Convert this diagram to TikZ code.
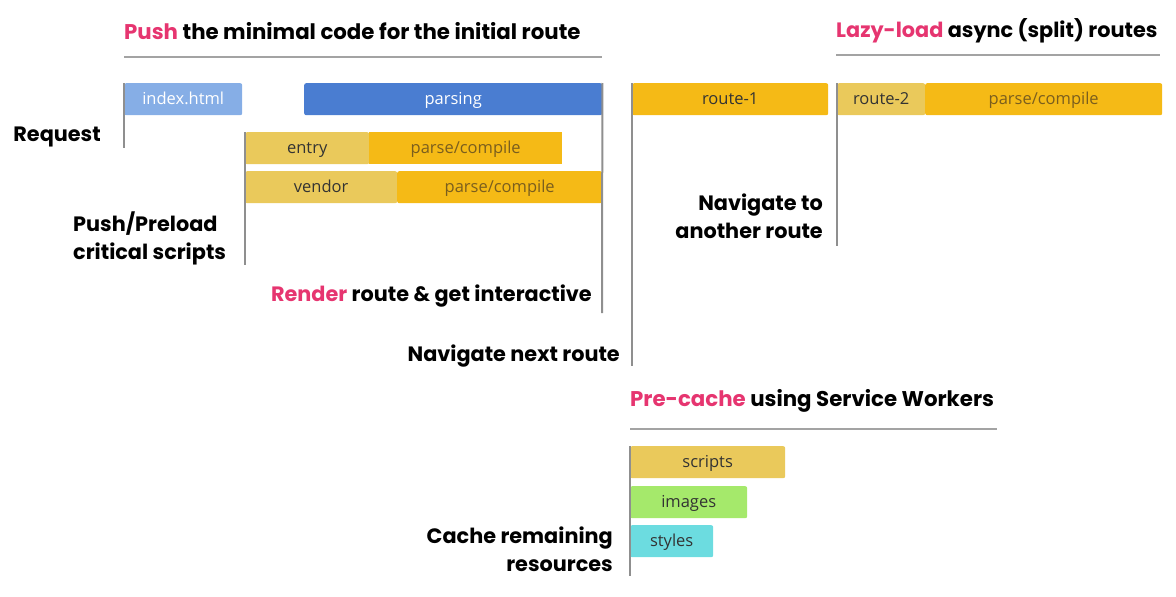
\documentclass[tikz,border=0pt]{standalone}
\usepackage{fontspec}
\setmainfont{Open Sans}
\newfontfamily\headfont{Poppins}
\definecolor{lblue}{HTML}{86AEE6}
\definecolor{dblue}{HTML}{4A7DD1}
\definecolor{lyel}{HTML}{EAC95B}
\definecolor{dyel}{HTML}{F5BA16}
\definecolor{grn}{HTML}{A5E96B}
\definecolor{cyn}{HTML}{6CDCE0}
\definecolor{pnk}{HTML}{E63570}
\definecolor{vline}{HTML}{8F8F8F}
\definecolor{uline}{HTML}{A3A3A3}
\definecolor{btext}{HTML}{333333}
\definecolor{ptext}{HTML}{7A5E1E}
\tikzset{
  bar/.style={rounded corners=2pt, inner sep=0pt, anchor=north west, minimum height=32pt, font=\fontsize{16.5}{16}\selectfont, text=btext, text height=13pt, text depth=2pt},
  head/.style={anchor=west, inner sep=0pt, font=\headfont\bfseries\fontsize{21.3}{21}\selectfont},
  lbl/.style={inner sep=0pt, font=\headfont\bfseries\fontsize{20.8}{28}\selectfont, align=right},
  tick/.style={draw=vline, line width=2pt},
  rule/.style={draw=uline, line width=2pt},
}
\begin{document}
\begin{tikzpicture}[x=1pt,y=-1pt]
\useasboundingbox (0,0) rectangle (1176,597);
% headings
\node[head] (h1) at (124,31) {\textcolor{pnk}{Push} the minimal code for the initial route};
\node[head, font=\headfont\bfseries\fontsize{20.8}{21}\selectfont] (h2) at (836,31) {\textcolor{pnk}{Lazy-load} async (split) routes};
\node[head] (h3) at (630,401) {\textcolor{pnk}{Pre-cache} using Service Workers};
\coordinate (u1a) at (124,57); \coordinate (u1b) at (602,57);
\coordinate (u2a) at (836,55); \coordinate (u2b) at (1160,55);
\coordinate (u3a) at (630,429); \coordinate (u3b) at (997,429);
\draw[rule] (u1a) -- (u1b);
\draw[rule] (u2a) -- (u2b);
\draw[rule] (u3a) -- (u3b);
% bars
\node[bar, fill=lblue, minimum width=118pt, text=white] (idx) at (124,83) {index.html};
\node[bar, fill=dblue, minimum width=298pt, text=white] (par) at (304,83) {parsing};
\node[bar, fill=lyel, minimum width=124pt] (ent) at (245,132) {entry};
\node[bar, fill=dyel, minimum width=193pt, text=ptext, rounded corners=0pt] (entp) at (369,132) {parse/compile};
\node[bar, fill=lyel, minimum width=152pt] (ven) at (245,171) {vendor};
\node[bar, fill=dyel, minimum width=205pt, text=ptext] (venp) at (397,171) {parse/compile};
\node[bar, fill=dyel, minimum width=196pt] (r1) at (632,83) {route-1};
\node[bar, fill=lyel, minimum width=88pt] (r2) at (837,83) {route-2};
\node[bar, fill=dyel, minimum width=237pt, text=ptext] (r2p) at (925,83) {parse/compile};
\node[bar, fill=lyel, minimum width=155pt] (scr) at (630,446) {scripts};
\node[bar, fill=grn, minimum width=117pt] (img) at (630,486) {images};
\node[bar, fill=cyn, minimum width=83pt] (sty) at (630,525) {styles};
% vertical ticks
\coordinate (t1) at (124,148);
\coordinate (t2) at (602,313);
\coordinate (t3) at (245,265);
\coordinate (t4) at (632,366);
\coordinate (t5) at (837,246);
\coordinate (t6) at (630,576);
\draw[tick] (idx.north west) -- (t1);
\draw[tick] (par.north east) -- (t2);
\draw[tick] (ent.north west) -- (t3);
\draw[tick] (r1.north west) -- (t4);
\draw[tick] (r2.north west) -- (t5);
\draw[tick] (scr.north west) -- (t6);
% labels
\node[lbl, anchor=east] (lreq) at (101,137) {Request};
\node[lbl, anchor=north west, align=left] (lpush) at (73,212) {Push/Preload\\critical scripts};
\node[lbl, anchor=east] (lrend) at (592,296) {\textcolor{pnk}{Render} route \& get interactive};
\node[lbl, anchor=east] (lnav) at (620,356) {Navigate next route};
\node[lbl, anchor=north east] (lano) at (823,194) {Navigate to\\another route};
\node[lbl, anchor=north east] (lcache) at (613,527) {Cache remaining\\resources};
\end{tikzpicture}
\end{document}
